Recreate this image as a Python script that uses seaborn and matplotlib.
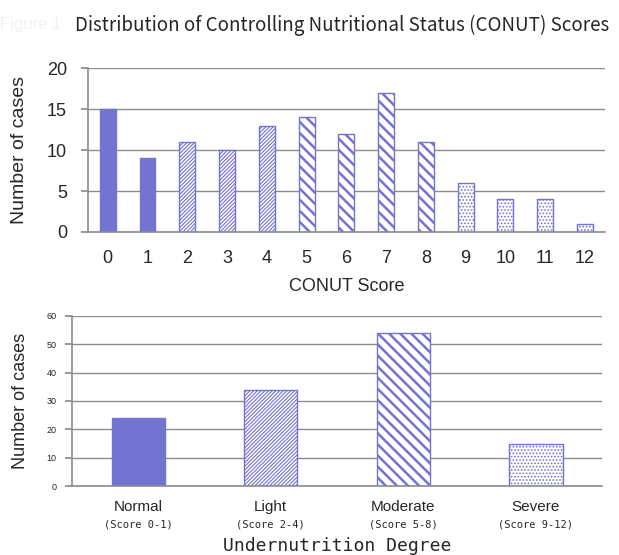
import matplotlib

matplotlib.use("Agg")
import matplotlib.pyplot as plt
import pandas as pd
import seaborn as sns

BLUE = "#7373d2"
GRID = "#8c8c8c"

scores = [str(s) for s in range(13)]
score_counts = [15, 9, 11, 10, 13, 14, 12, 17, 11, 6, 4, 4, 1]
score_groups = ["Normal", "Normal", "Light", "Light", "Light",
                "Moderate", "Moderate", "Moderate", "Moderate",
                "Severe", "Severe", "Severe", "Severe"]

degrees = ["Normal", "Light", "Moderate", "Severe"]
degree_ranges = ["(Score 0-1)", "(Score 2-4)", "(Score 5-8)", "(Score 9-12)"]
degree_counts = [24, 34, 54, 15]

HATCH = {"Normal": None, "Light": "/////////", "Moderate": "\\\\\\", "Severe": "....."}
HATCH_LW = {"Light": 0.8, "Moderate": 1.8, "Severe": 0.8}


def style_bars(ax, groups):
    for patch, g in zip(ax.patches, groups):
        if HATCH[g] is None:
            patch.set_facecolor(BLUE)
            patch.set_edgecolor(BLUE)
        else:
            patch.set_facecolor("white")
            patch.set_edgecolor(BLUE)
            patch.set_hatch(HATCH[g])
            if hasattr(patch, "set_hatch_linewidth"):
                patch.set_hatch_linewidth(HATCH_LW[g])
            patch.set_linewidth(1.0)


def style_axes(ax, n, ymax, step):
    ax.set_ylim(0, ymax)
    ax.set_xlim(-0.5, n - 0.5)
    ax.set_yticks(range(0, ymax + 1, step))
    ax.yaxis.grid(True, color=GRID, linewidth=1)
    ax.xaxis.grid(False)
    ax.set_axisbelow(True)
    for side in ["top", "right"]:
        ax.spines[side].set_visible(False)
    for side in ["left", "bottom"]:
        ax.spines[side].set_color(GRID)
        ax.spines[side].set_linewidth(1.2)
    ax.set_xticks([i - 0.5 for i in range(n + 1)], minor=True)
    ax.tick_params(axis="x", which="major", length=0)
    ax.tick_params(axis="x", which="minor", length=7, color=GRID, direction="out")
    ax.tick_params(axis="y", length=5, color=GRID, direction="out", left=True)


sns.set_theme(style="white")
plt.rcParams["font.family"] = ["Liberation Sans", "DejaVu Sans"]

fig = plt.figure(figsize=(6.19, 5.55), dpi=100)

fig.text(0.0, 0.955, "Figure 1", fontsize=12, color="#f2f2f2", ha="left", va="center")
fig.text(0.121, 0.955, "Distribution of Controlling Nutritional Status (CONUT) Scores",
         fontsize=13.5, ha="left", va="center", family=["Noto Sans CJK JP", "DejaVu Sans"])

# top: score distribution
ax1 = fig.add_axes([0.142, 0.582, 0.835, 0.295])
df1 = pd.DataFrame({"score": scores, "count": score_counts})
sns.barplot(data=df1, x="score", y="count", color=BLUE, width=0.4, saturation=1, ax=ax1)
style_bars(ax1, score_groups)
style_axes(ax1, len(scores), 20, 5)
ax1.tick_params(axis="both", which="major", labelsize=13)
ax1.tick_params(axis="x", which="major", pad=13)
ax1.tick_params(axis="y", pad=10)
ax1.set_xlabel("CONUT Score", fontsize=13)
ax1.xaxis.set_label_coords(0.5, -0.28)
ax1.set_ylabel("Number of cases", fontsize=14)
ax1.yaxis.set_label_coords(-0.115, 0.5)

# bottom: undernutrition degree
ax2 = fig.add_axes([0.116, 0.124, 0.857, 0.307])
df2 = pd.DataFrame({"degree": degrees, "count": degree_counts})
sns.barplot(data=df2, x="degree", y="count", color=BLUE, width=0.4, saturation=1, ax=ax2)
style_bars(ax2, degrees)
style_axes(ax2, len(degrees), 60, 10)
ax2.tick_params(axis="y", labelsize=6.5, pad=6)
ax2.set_xticklabels(degrees, fontsize=11)
ax2.tick_params(axis="x", which="major", pad=10)
for i, r in enumerate(degree_ranges):
    ax2.text(i, -0.225, r, transform=ax2.get_xaxis_transform(), ha="center", va="center",
             fontsize=7.5, family=["DejaVu Sans Mono"])
ax2.set_xlabel("Undernutrition Degree", fontsize=13, family=["DejaVu Sans Mono"])
ax2.xaxis.set_label_coords(0.5, -0.30)
ax2.set_ylabel("Number of cases", fontsize=13)
ax2.yaxis.set_label_coords(-0.081, 0.5)

fig.savefig("out.png", dpi=100)
plt.close(fig)
